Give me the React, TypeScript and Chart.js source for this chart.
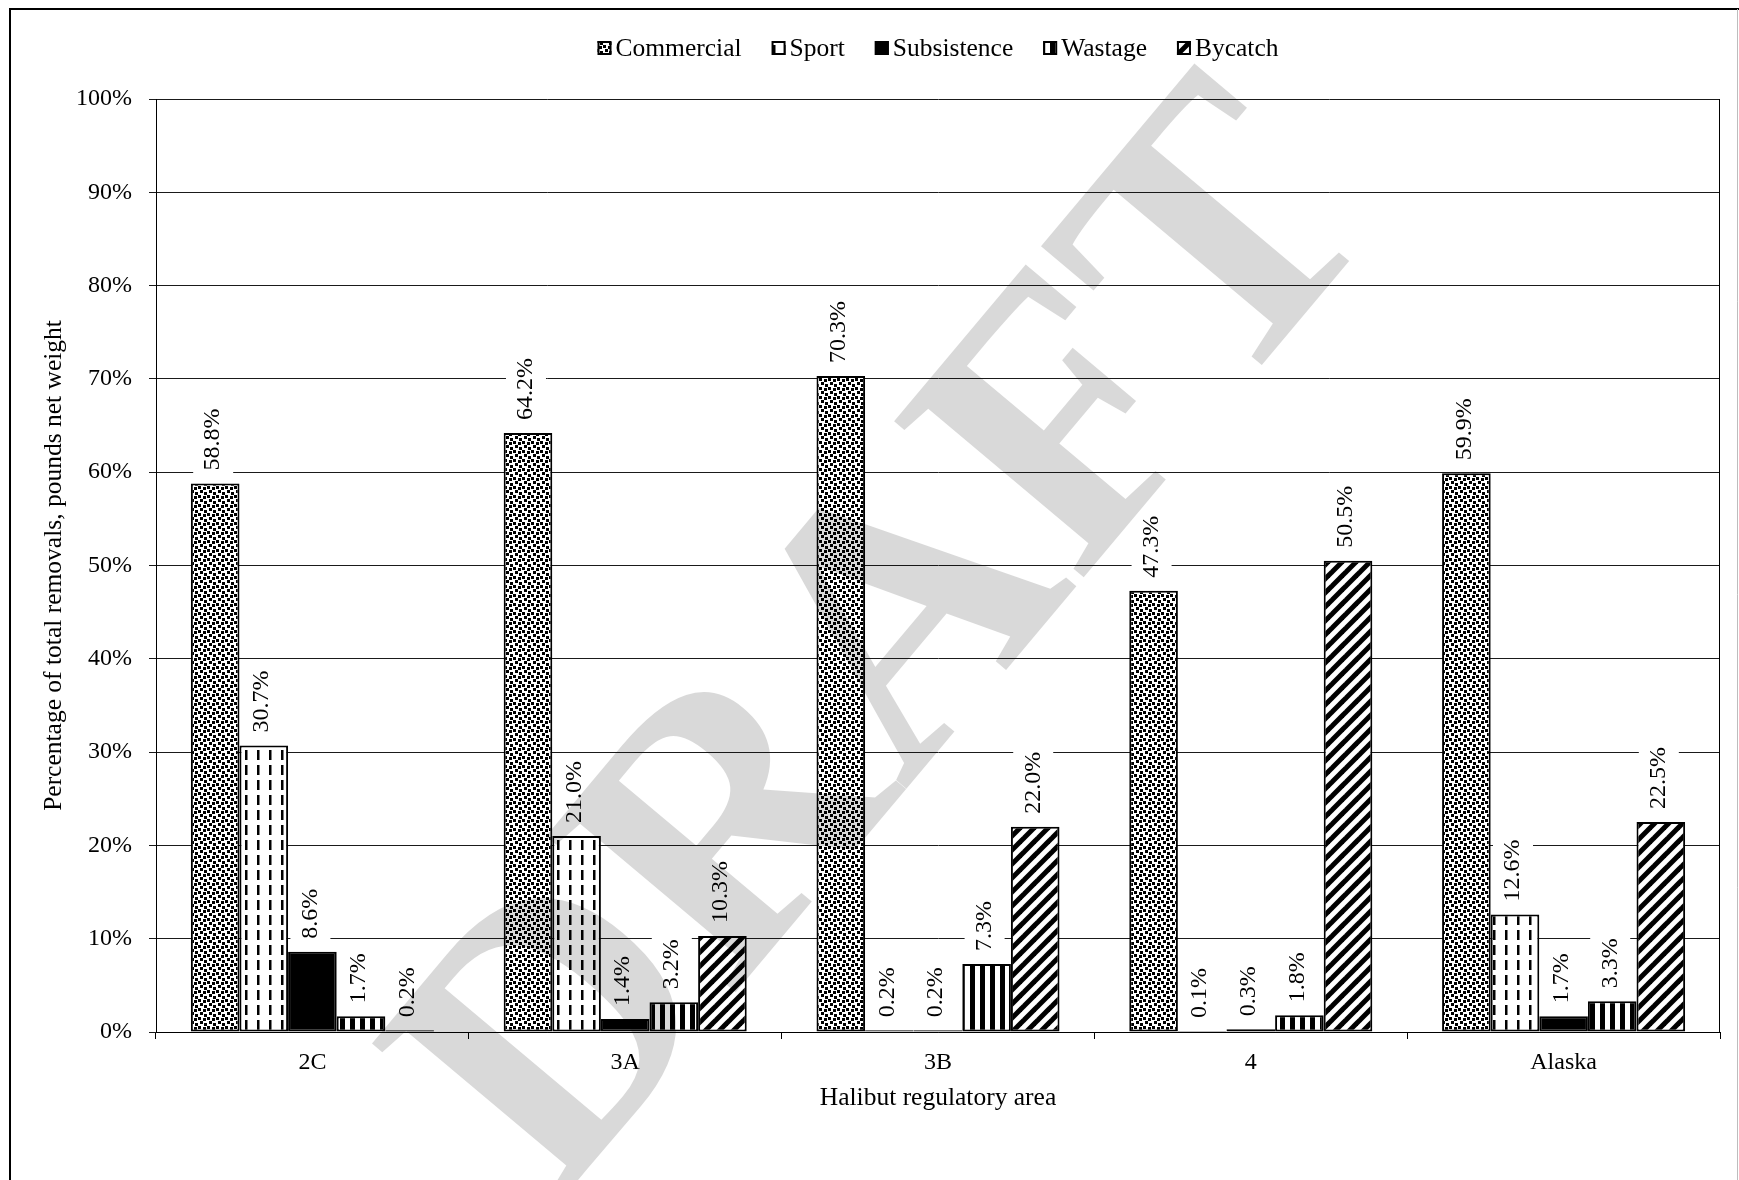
import React, { useEffect, useRef } from 'react';
import { Chart, registerables } from 'chart.js';

Chart.register(...registerables);

const categories = ['2C', '3A', '3B', '4', 'Alaska'];
const seriesNames = ['Commercial', 'Sport', 'Subsistence', 'Wastage', 'Bycatch'];
const commercial = [58.8, 64.2, 70.3, 47.3, 59.9];
const sport = [30.7, 21.0, 0.2, 0.1, 12.6];
const subsistence = [8.6, 1.4, 0.2, 0.3, 1.7];
const wastage = [1.7, 3.2, 7.3, 1.8, 3.3];
const bycatch = [0.2, 10.3, 22.0, 50.5, 22.5];
const yMin = 0;
const yMax = 100;
const yStep = 10;
const xTitle = 'Halibut regulatory area';
const yTitle = 'Percentage of total removals, pounds net weight';
const watermarkText = 'DRAFT';

const FAMILY = '"Liberation Serif", "Times New Roman", serif';

type Drawer = (g: CanvasRenderingContext2D, w: number, h: number) => void;

function makePattern(ctx: CanvasRenderingContext2D, w: number, h: number, draw: Drawer): CanvasPattern | string {
  const c = document.createElement('canvas');
  c.width = w;
  c.height = h;
  const g = c.getContext('2d')!;
  g.fillStyle = '#fff';
  g.fillRect(0, 0, w, h);
  g.fillStyle = '#000';
  g.strokeStyle = '#000';
  draw(g, w, h);
  return ctx.createPattern(c, 'repeat') || '#000';
}

function buildFills(ctx: CanvasRenderingContext2D) {
  const confetti = makePattern(ctx, 9, 9, (g) => {
    const pts = [[0, 0], [5, 1], [2, 4], [6, 6]];
    pts.forEach(([x, y]) => g.fillRect(x, y, 3, 3));
  });
  const dashed = makePattern(ctx, 12, 15, (g) => {
    g.fillRect(5, 0, 2.5, 10);
  });
  const solid = '#000';
  const vstripe = makePattern(ctx, 10, 1, (g) => {
    g.fillRect(0, 0, 5, 1);
  });
  const diag = makePattern(ctx, 14, 14, (g, w, h) => {
    g.lineWidth = 5;
    g.lineCap = 'square';
    for (const off of [-w, 0, w]) {
      g.beginPath();
      g.moveTo(off, h);
      g.lineTo(off + w, 0);
      g.stroke();
    }
  });
  return [confetti, dashed, solid, vstripe, diag];
}

export default function App() {
  const ref = useRef<HTMLCanvasElement | null>(null);

  useEffect(() => {
    const canvas = ref.current!;
    const ctx = canvas.getContext('2d')!;
    const fills = buildFills(ctx);
    const seriesData = [commercial, sport, subsistence, wastage, bycatch];

    const bgPlugin = {
      id: 'bgWhite',
      beforeDraw(chart: any) {
        const c = chart.ctx;
        c.save();
        c.fillStyle = '#fff';
        c.fillRect(0, 0, chart.width, chart.height);
        c.restore();
      },
    };

    const labelPlugin = {
      id: 'valueLabels',
      afterDatasetsDraw(chart: any) {
        const c = chart.ctx;
        c.save();
        c.font = `24px ${FAMILY}`;
        chart.data.datasets.forEach((ds: any, i: number) => {
          const meta = chart.getDatasetMeta(i);
          meta.data.forEach((bar: any, j: number) => {
            const v = ds.data[j] as number;
            const txt = v.toFixed(1) + '%';
            const w = c.measureText(txt).width;
            c.save();
            c.translate(bar.x - 2, bar.y - 13);
            c.rotate(-Math.PI / 2);
            c.fillStyle = '#fff';
            c.fillRect(-5, -20, w + 10, 40);
            c.fillStyle = '#000';
            c.textAlign = 'left';
            c.textBaseline = 'middle';
            c.fillText(txt, 0, 0);
            c.restore();
          });
        });
        c.restore();
      },
    };

    const decorPlugin = {
      id: 'decor',
      afterDraw(chart: any) {
        const c = chart.ctx;
        const area = chart.chartArea;
        c.save();
        c.strokeStyle = '#000';
        c.lineWidth = 1;
        c.beginPath();
        c.moveTo(Math.round(area.right) - 0.5, area.top);
        c.lineTo(Math.round(area.right) - 0.5, area.bottom);
        c.stroke();

        c.lineWidth = 2;
        c.beginPath();
        c.moveTo(10, 9);
        c.lineTo(chart.width, 9);
        c.moveTo(10, 8);
        c.lineTo(10, chart.height);
        c.stroke();
        c.strokeStyle = '#bdbdbd';
        c.lineWidth = 1;
        c.beginPath();
        c.moveTo(1737.5, 9);
        c.lineTo(1737.5, chart.height);
        c.stroke();

        c.font = `25.5px ${FAMILY}`;
        c.textBaseline = 'middle';
        c.textAlign = 'left';
        const box = 14;
        const gapBox = 4;
        const gapItem = 30;
        const widths = seriesNames.map((n) => c.measureText(n).width);
        const total = widths.reduce((a, b) => a + b, 0) + seriesNames.length * (box + gapBox) + (seriesNames.length - 1) * gapItem;
        let x = (area.left + area.right) / 2 - total / 2;
        const cy = 48;
        seriesNames.forEach((n, i) => {
          c.fillStyle = fills[i] as any;
          c.fillRect(x, cy - box / 2, box, box);
          c.strokeStyle = '#000';
          c.lineWidth = 2;
          c.strokeRect(x + 1, cy - box / 2 + 1, box - 2, box - 2);
          c.fillStyle = '#000';
          c.fillText(n, x + box + gapBox, cy + 1);
          x += box + gapBox + widths[i] + gapItem;
        });

        c.globalCompositeOperation = 'multiply';
        c.fillStyle = '#d9d9d9';
        c.translate(876, 632);
        c.rotate((-50 * Math.PI) / 180);
        c.font = `bold 375px ${FAMILY}`;
        c.textAlign = 'center';
        c.textBaseline = 'alphabetic';
        c.fillText(watermarkText, 0, 124);
        c.restore();
      },
    };

    const chart = new Chart(canvas, {
      type: 'bar',
      data: {
        labels: categories,
        datasets: seriesNames.map((name, i) => ({
          label: name,
          data: seriesData[i],
          backgroundColor: fills[i] as any,
          borderColor: '#000',
          borderWidth: 2,
          borderSkipped: false,
          categoryPercentage: 0.777,
          barPercentage: 1,
        })),
      },
      options: {
        responsive: false,
        animation: false,
        devicePixelRatio: 1,
        layout: { padding: { top: 99, right: 19, left: 0, bottom: 0 } },
        plugins: {
          legend: { display: false },
          tooltip: { enabled: false },
          title: { display: false },
        },
        scales: {
          x: {
            grid: {
              display: true,
              drawOnChartArea: false,
              drawTicks: true,
              tickLength: 7,
              color: '#000',
              offset: true,
            },
            border: { color: '#000', width: 1 },
            ticks: { color: '#000', font: { family: FAMILY, size: 24 }, padding: 9 },
            title: {
              display: true,
              text: xTitle,
              color: '#000',
              font: { family: FAMILY, size: 25.5 },
              padding: { top: 0, bottom: 66 },
            },
            afterFit: (s: any) => {
              s.height = 148;
            },
          },
          y: {
            min: yMin,
            max: yMax,
            ticks: {
              stepSize: yStep,
              color: '#000',
              font: { family: FAMILY, size: 24 },
              padding: 17,
              callback: (v: any) => `${v}%`,
            },
            grid: { color: '#1a1a1a', lineWidth: 1, tickLength: 7, drawTicks: true },
            border: { color: '#000', width: 1 },
            title: {
              display: true,
              text: yTitle,
              color: '#000',
              font: { family: FAMILY, size: 25.5 },
              padding: { top: 39, bottom: 0 },
            },
            afterFit: (s: any) => {
              s.width = 156;
            },
          },
        },
      },
      plugins: [bgPlugin, labelPlugin, decorPlugin],
    });

    return () => chart.destroy();
  }, []);

  return (
    <div style={{ position: 'fixed', left: 0, top: 0, width: 1739, height: 1180, background: '#fff' }}>
      <canvas ref={ref} width={1739} height={1180} style={{ width: 1739, height: 1180, display: 'block' }} />
    </div>
  );
}
